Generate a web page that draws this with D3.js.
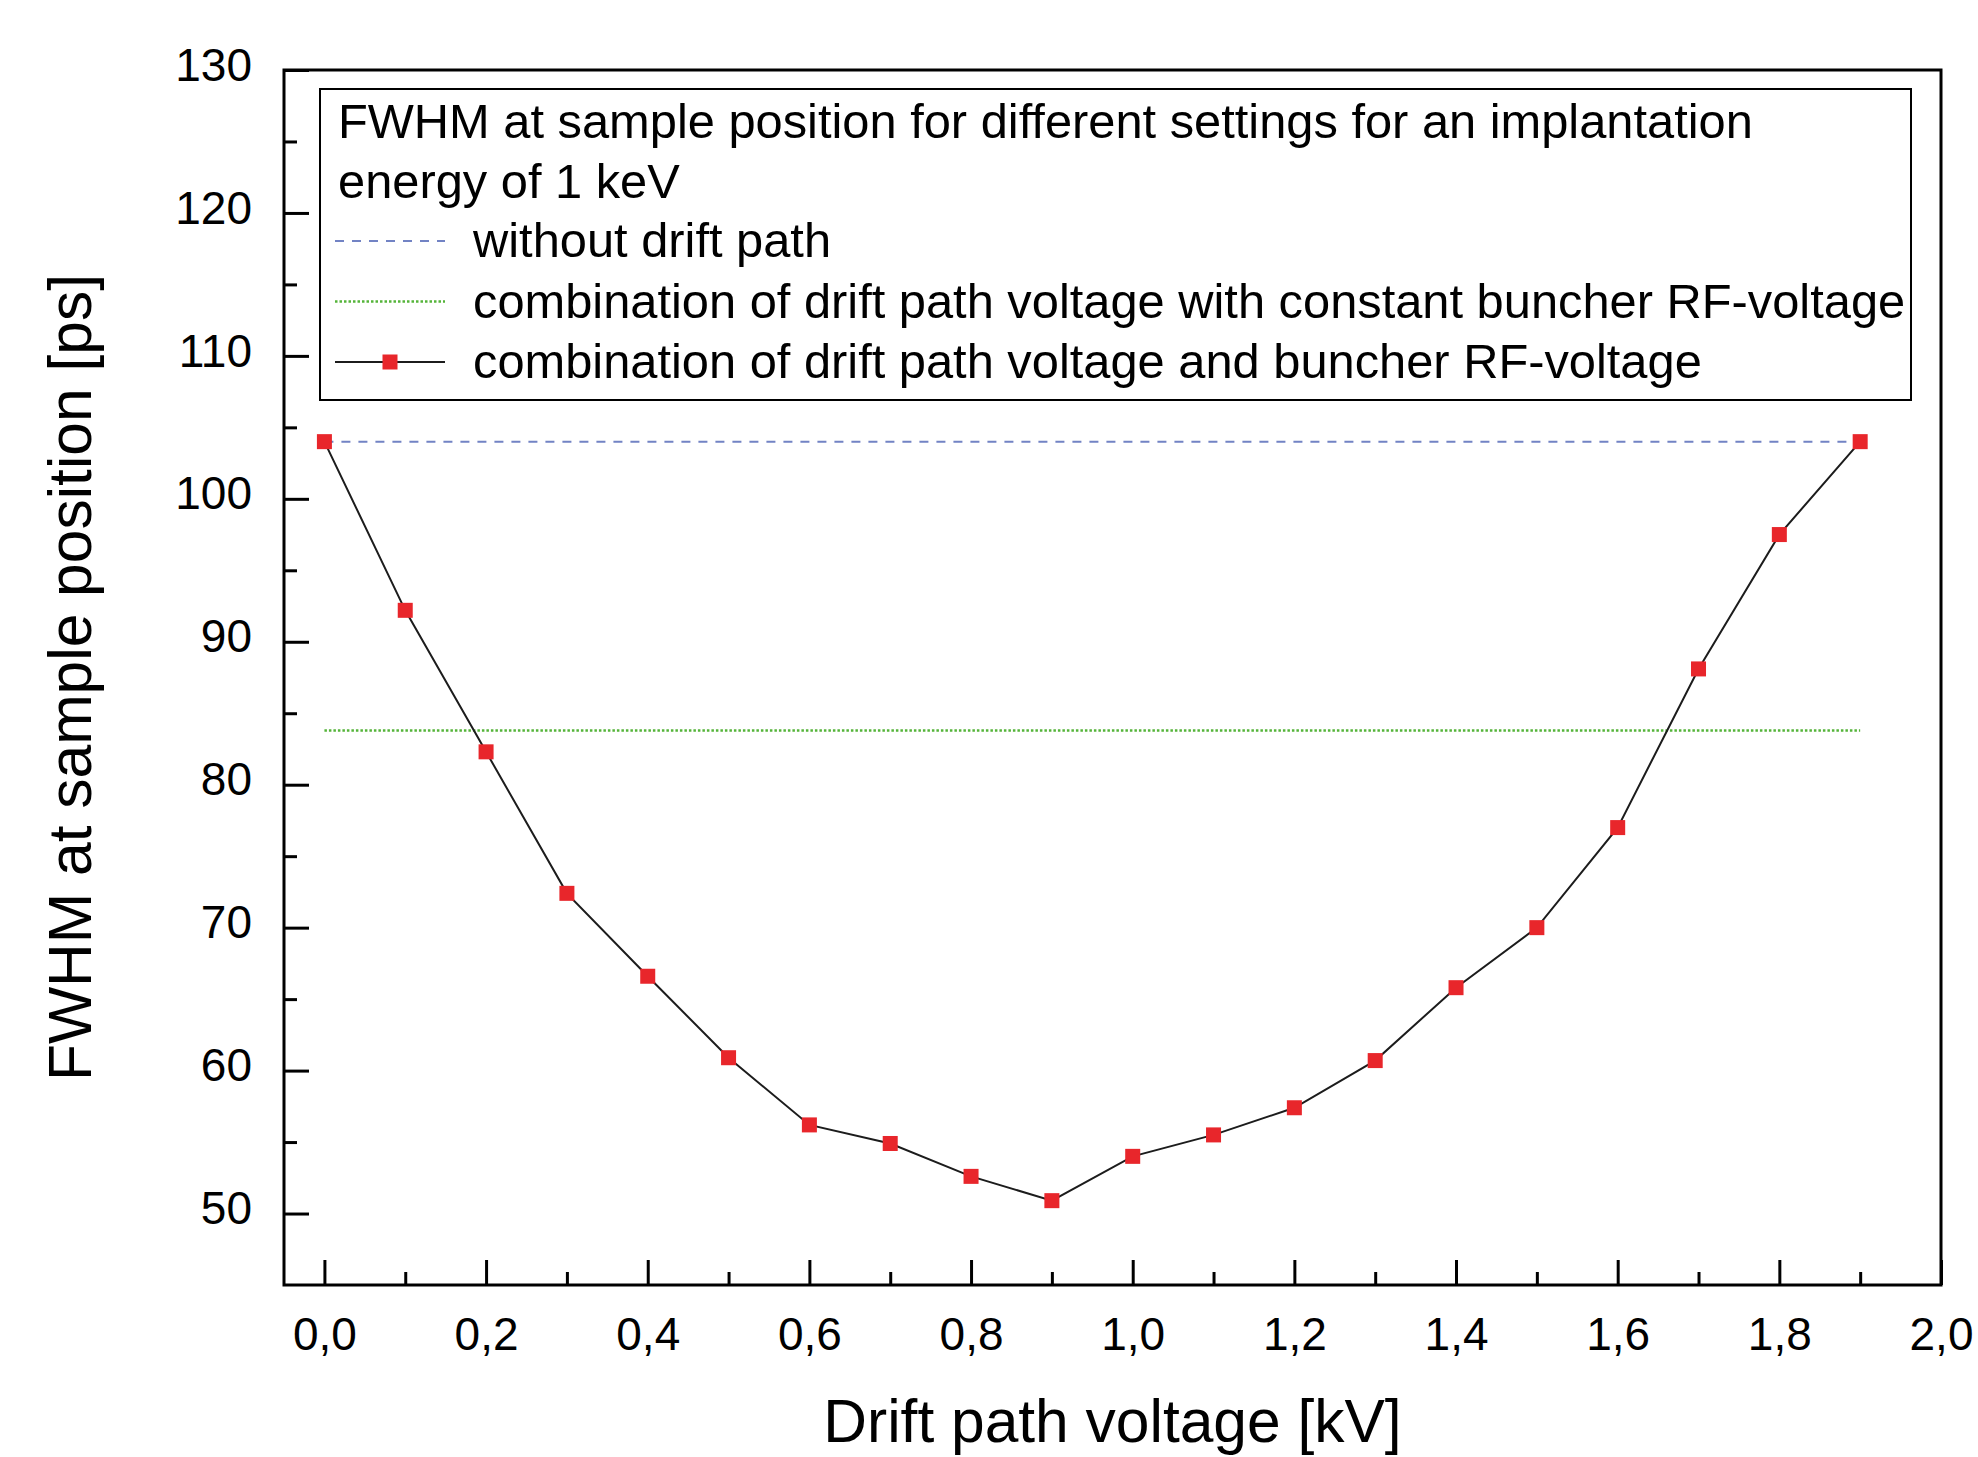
<!DOCTYPE html>
<html>
<head>
<meta charset="utf-8">
<script src="https://cdn.jsdelivr.net/npm/d3@7"></script>
<style>
  body { margin: 0; background: #fff; }
  text { font-family: "Liberation Sans", Arial, sans-serif; fill: #000; }
</style>
</head>
<body>
<div id="chart"></div>
<script>
// drift path voltage in kV
const voltages = [0.0, 0.1, 0.2, 0.3, 0.4, 0.5, 0.6, 0.7, 0.8, 0.9,
                  1.0, 1.1, 1.2, 1.3, 1.4, 1.5, 1.6, 1.7, 1.8, 1.9];
// FWHM [ps], drift path voltage + buncher RF-voltage
const fwhmCombined = [104.0, 92.2, 82.3, 72.4, 66.6, 60.9, 56.2, 54.9, 52.6, 50.9,
                      54.0, 55.5, 57.4, 60.7, 65.8, 70.0, 77.0, 88.1, 97.5, 104.0];
// reference levels
const fwhmNoDrift = 104.0;
const fwhmConstRF = 83.8;

const xMajorTicks = [0.0, 0.2, 0.4, 0.6, 0.8, 1.0, 1.2, 1.4, 1.6, 1.8, 2.0];
const xMinorTicks = [0.1, 0.3, 0.5, 0.7, 0.9, 1.1, 1.3, 1.5, 1.7, 1.9];
const yMajorTicks = [50, 60, 70, 80, 90, 100, 110, 120, 130];
const yMinorTicks = [55, 65, 75, 85, 95, 105, 115, 125];

const legendTitle = ["FWHM at sample position for different settings for an implantation",
                     "energy of 1 keV"];
const legendLabels = ["without drift path",
                      "combination of drift path voltage with constant buncher RF-voltage",
                      "combination of drift path voltage and buncher RF-voltage"];

const width = 1978, height = 1457;
const margin = {left: 284, right: 37, top: 70, bottom: 172};

const svg = d3.select("#chart").append("svg")
    .attr("width", width)
    .attr("height", height);

const x = d3.scaleLinear()
    .domain([-0.05, 2.0])
    .range([margin.left, width - margin.right]);
const y = d3.scaleLinear()
    .domain([45, 130])
    .range([height - margin.bottom, margin.top]);

const fmt = d => d3.format(".1f")(d).replace(".", ",");

// axes, ticks pointing inward
svg.append("g")
    .attr("transform", "translate(0," + y.range()[0] + ")")
    .call(d3.axisBottom(x).tickValues(xMajorTicks).tickFormat(fmt)
      .tickSizeInner(-25).tickSizeOuter(0).tickPadding(32));
svg.append("g")
    .attr("transform", "translate(0," + y.range()[0] + ")")
    .call(d3.axisBottom(x).tickValues(xMinorTicks).tickFormat("")
      .tickSizeInner(-13).tickSizeOuter(0));

const yAxis = svg.append("g")
    .attr("transform", "translate(" + x.range()[0] + ",0)")
    .call(d3.axisLeft(y).tickValues(yMajorTicks).tickFormat(d3.format("d"))
      .tickSizeInner(-25).tickSizeOuter(0).tickPadding(32));
svg.append("g")
    .attr("transform", "translate(" + x.range()[0] + ",0)")
    .call(d3.axisLeft(y).tickValues(yMinorTicks).tickFormat("")
      .tickSizeInner(-13).tickSizeOuter(0));

svg.selectAll(".domain").remove();
svg.selectAll(".tick line").attr("stroke", "#000").attr("stroke-width", 3);
svg.selectAll(".tick text")
    .style("font-size", "46px")
    .style("font-family", '"Liberation Sans", Arial, sans-serif');
yAxis.selectAll(".tick text").attr("dy", "0.22em");

// frame
svg.append("rect")
    .attr("x", x.range()[0])
    .attr("y", y.range()[1])
    .attr("width", x.range()[1] - x.range()[0])
    .attr("height", y.range()[0] - y.range()[1])
    .attr("fill", "none")
    .attr("stroke", "#000")
    .attr("stroke-width", 3);

// horizontal reference lines
svg.append("line")
    .attr("x1", x(voltages[0])).attr("x2", x(voltages[voltages.length - 1]))
    .attr("y1", y(fwhmNoDrift)).attr("y2", y(fwhmNoDrift))
    .attr("stroke", "#7283c4")
    .attr("stroke-width", 2)
    .attr("stroke-dasharray", "9,8");
svg.append("line")
    .attr("x1", x(voltages[0])).attr("x2", x(voltages[voltages.length - 1]))
    .attr("y1", y(fwhmConstRF)).attr("y2", y(fwhmConstRF))
    .attr("stroke", "#55b43a")
    .attr("stroke-width", 2.5)
    .attr("stroke-dasharray", "2.5,2");

// main series
const pts = voltages.map((v, i) => [v, fwhmCombined[i]]);
svg.append("path")
    .datum(pts)
    .attr("fill", "none")
    .attr("stroke", "#1c1c1c")
    .attr("stroke-width", 2)
    .attr("d", d3.line().x(d => x(d[0])).y(d => y(d[1])));

const ms = 15;
svg.append("g").selectAll("rect")
    .data(pts)
    .enter().append("rect")
    .attr("x", d => x(d[0]) - ms / 2)
    .attr("y", d => y(d[1]) - ms / 2)
    .attr("width", ms)
    .attr("height", ms)
    .attr("fill", "#e8262b");

// legend
const legend = svg.append("g");
legend.append("rect")
    .attr("x", 320).attr("y", 89)
    .attr("width", 1591).attr("height", 311)
    .attr("fill", "#fff")
    .attr("stroke", "#000")
    .attr("stroke-width", 2);

legend.selectAll("text.title")
    .data(legendTitle)
    .enter().append("text")
    .attr("class", "title")
    .attr("x", 338)
    .attr("y", (d, i) => 138 + i * 60)
    .style("font-size", "48.8px")
    .text(d => d);

const rowY = i => 257 + i * 60.5;
legend.selectAll("text.entry")
    .data(legendLabels)
    .enter().append("text")
    .attr("class", "entry")
    .attr("x", 473)
    .attr("y", (d, i) => rowY(i))
    .style("font-size", "48.8px")
    .text(d => d);

const sample = [
  {stroke: "#7283c4", width: 2, dash: "9,8"},
  {stroke: "#55b43a", width: 2.5, dash: "2.5,2"},
  {stroke: "#1c1c1c", width: 2, dash: null}
];
legend.selectAll("line.sample")
    .data(sample)
    .enter().append("line")
    .attr("class", "sample")
    .attr("x1", 335).attr("x2", 445)
    .attr("y1", (d, i) => rowY(i) - 16)
    .attr("y2", (d, i) => rowY(i) - 16)
    .attr("stroke", d => d.stroke)
    .attr("stroke-width", d => d.width)
    .attr("stroke-dasharray", d => d.dash);
legend.append("rect")
    .attr("x", 390 - ms / 2)
    .attr("y", rowY(2) - 16 - ms / 2)
    .attr("width", ms).attr("height", ms)
    .attr("fill", "#e8262b");

// axis titles
svg.append("text")
    .attr("x", (x.range()[0] + x.range()[1]) / 2)
    .attr("y", 1442)
    .attr("text-anchor", "middle")
    .style("font-size", "60.5px")
    .text("Drift path voltage [kV]");
svg.append("text")
    .attr("transform", "translate(91," + (y.range()[0] + y.range()[1]) / 2 + ") rotate(-90)")
    .attr("text-anchor", "middle")
    .style("font-size", "60.5px")
    .text("FWHM at sample position [ps]");
</script>
</body>
</html>
